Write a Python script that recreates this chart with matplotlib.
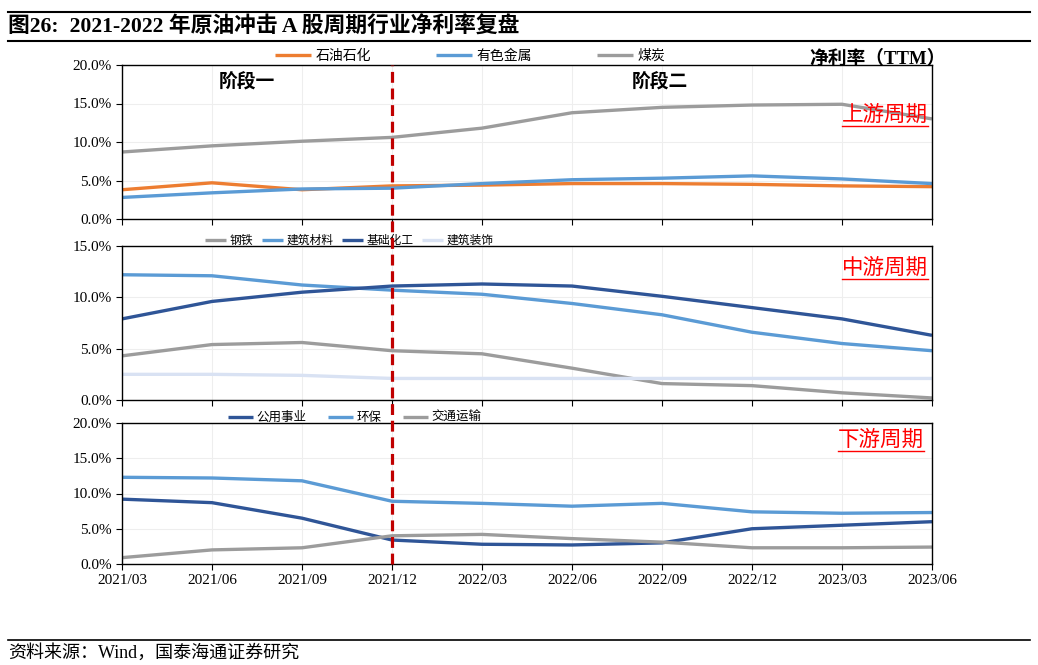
import numpy as np
import matplotlib
matplotlib.use("Agg")
import matplotlib.pyplot as plt
import matplotlib.transforms as mtransforms
from matplotlib.lines import Line2D
from matplotlib.ticker import PercentFormatter

plt.rcParams["font.family"] = ["Liberation Serif", "Noto Sans CJK SC"]

# x axis labels (quarters)
dates = ["2021/03", "2021/06", "2021/09", "2021/12", "2022/03",
         "2022/06", "2022/09", "2022/12", "2023/03", "2023/06"]

# upstream
petro = [3.8, 4.7, 3.8, 4.3, 4.4, 4.6, 4.6, 4.5, 4.3, 4.2]
nonferrous = [2.8, 3.4, 3.9, 4.0, 4.6, 5.1, 5.3, 5.6, 5.2, 4.6]
coal = [8.7, 9.5, 10.1, 10.6, 11.8, 13.8, 14.5, 14.8, 14.9, 13.0]

# midstream
steel = [4.3, 5.4, 5.6, 4.8, 4.5, 3.1, 1.6, 1.4, 0.7, 0.2]
build_mat = [12.2, 12.1, 11.2, 10.7, 10.3, 9.4, 8.3, 6.6, 5.5, 4.8]
chem = [7.9, 9.6, 10.5, 11.1, 11.3, 11.1, 10.1, 9.0, 7.9, 6.3]
build_deco = [2.5, 2.5, 2.4, 2.1, 2.1, 2.1, 2.1, 2.1, 2.1, 2.1]

# downstream
utility = [9.2, 8.7, 6.5, 3.4, 2.8, 2.7, 3.0, 5.0, 5.5, 6.0]
envir = [12.3, 12.2, 11.8, 8.9, 8.6, 8.2, 8.6, 7.4, 7.2, 7.3]
transport = [0.9, 2.0, 2.3, 4.0, 4.2, 3.6, 3.1, 2.3, 2.3, 2.4]

ORANGE = "#ED7D31"
BLUE = "#5B9BD5"
GRAY = "#9C9C9C"
DARK = "#2F5597"
PALE = "#D9E2F3"
RED = "#C00000"

W, H = 1038, 665
fig = plt.figure(figsize=(W / 100, H / 100), dpi=100)


def box(left, top, right, bottom):
    return [left / W, 1 - bottom / H, (right - left) / W, (bottom - top) / H]


ax1 = fig.add_axes(box(122, 65, 932, 219))
ax2 = fig.add_axes(box(122, 246, 932, 400))
ax3 = fig.add_axes(box(122, 423, 932, 564))

x = np.arange(len(dates))
lw = 2.4

# legend settings: (left edge px, offset above axes px, font size, handle length, col spacing)
panels = [
    (ax1, [(petro, "石油石化", ORANGE), (nonferrous, "有色金属", BLUE), (coal, "煤炭", GRAY)],
     20, (275, 9, 10, 2.6, 4.7), "上游周期", 0.675, 928),
    (ax2, [(steel, "钢铁", GRAY), (build_mat, "建筑材料", BLUE), (chem, "基础化工", DARK),
           (build_deco, "建筑装饰", PALE)],
     15, (205, 5, 8.5, 1.8, 0.7), "中游周期", 0.857, 928),
    (ax3, [(utility, "公用事业", DARK), (envir, "环保", BLUE), (transport, "交通运输", GRAY)],
     20, (228, 5, 9, 2.0, 1.7), "下游周期", 0.88, 924),
]

tags = []
for ax, series, ymax, (lpx, ly, lfs, hl, cs), tag, ty, tx in panels:
    for vals, name, col in series:
        ax.plot(x, vals, color=col, lw=lw, label=name, solid_capstyle="butt")
    ax.set_xlim(0, len(dates) - 1)
    ax.set_ylim(0, ymax)
    ax.set_yticks(np.arange(0, ymax + 0.1, 5))
    ax.yaxis.set_major_formatter(PercentFormatter(decimals=1))
    ax.set_xticks(x)
    ax.grid(True, color="#EEEEEE", lw=0.8)
    ax.set_axisbelow(True)
    ax.tick_params(axis="both", direction="out", length=4, labelsize=11, width=0.8)
    for sp in ax.spines.values():
        sp.set_linewidth(1.0)
    if ax is not ax3:
        ax.tick_params(axis="x", labelbottom=False)
    ax_h = ax.get_position().height * H
    ax.legend(loc="center left", bbox_to_anchor=((lpx - 122) / 810, 1.0 + ly / ax_h),
              ncol=len(series), frameon=False, fontsize=lfs, handlelength=hl,
              columnspacing=cs, handletextpad=0.3, borderaxespad=0, borderpad=0)
    t = ax.text((tx - 122) / 810, ty, tag, transform=ax.transAxes, ha="right", va="center",
                color="red", fontsize=15.5, family=["Noto Sans CJK SC"])
    tags.append(t)

ax3.set_xticklabels(dates)

# stage labels and unit
ax1.text(0.154, 0.89, "阶段一", transform=ax1.transAxes, ha="center", va="center",
         fontsize=13.5, fontweight="bold", family=["Noto Sans CJK SC"])
ax1.text(0.664, 0.89, "阶段二", transform=ax1.transAxes, ha="center", va="center",
         fontsize=13.5, fontweight="bold", family=["Noto Sans CJK SC"])
fig.text(946 / W, 1 - 59 / H, "净利率（TTM）", ha="right", va="center",
         fontsize=13.5, fontweight="bold")

# dashed divider at 2021/12 across all panels
tr = mtransforms.blended_transform_factory(ax3.transData, fig.transFigure)
fig.add_artist(Line2D([3, 3], [1 - 564 / H, 1 - 65 / H], transform=tr,
                      color=RED, lw=2.3, ls=(0, (3.4, 1.8))))

# title, source and rules
fig.add_artist(Line2D([8 / W, 1030 / W], [1 - 12 / H] * 2, color="black", lw=1.5))
fig.add_artist(Line2D([8 / W, 1030 / W], [1 - 41 / H] * 2, color="black", lw=1.5))
fig.text(8 / W, 1 - 27 / H, "图26:  2021-2022 年原油冲击 A 股周期行业净利率复盘",
         ha="left", va="center", fontsize=15.7, fontweight="bold")
fig.add_artist(Line2D([8 / W, 1030 / W], [1 - 640 / H] * 2, color="black", lw=1.2))
fig.text(8 / W, 1 - 653 / H, "资料来源：Wind，国泰海通证券研究", ha="left", va="center",
         fontsize=13)

# underline the red tags
fig.canvas.draw()
renderer = fig.canvas.get_renderer()
inv = fig.transFigure.inverted()
for t in tags:
    bb = t.get_window_extent(renderer)
    (x0, y0), (x1_, _) = inv.transform([[bb.x0, bb.y0], [bb.x1, bb.y1]])
    fig.add_artist(Line2D([x0, x1_], [y0, y0], color="red", lw=1.0))

fig.savefig("out.png", dpi=100)
